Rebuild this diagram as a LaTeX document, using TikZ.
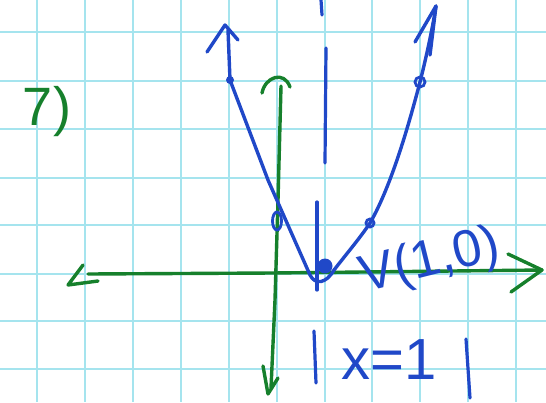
\documentclass[tikz,border=0pt]{standalone}
\usepackage{fontspec}
\setmainfont{Liberation Sans}
\usetikzlibrary{arrows.meta}
\usepackage{xcolor}
\definecolor{gridcyan}{RGB}{165,228,238}
\definecolor{penGreen}{RGB}{22,128,44}
\definecolor{penBlue}{RGB}{32,72,200}

\begin{document}
\begin{tikzpicture}[
  x=1pt,y=-1pt,
  gridline/.style={draw=gridcyan,line width=1.8pt},
  axis/.style={draw=penGreen,line width=3.4pt,line cap=round,line join=round},
  graph/.style={draw=penBlue,line width=3.4pt,line cap=round,line join=round},
  sym/.style={draw=penBlue,line width=3.2pt,line cap=round},
  opendot/.style={draw=penBlue,line width=2.8pt},
  handtext/.style={inner sep=0pt,font=\fontsize{#1}{#1}\selectfont},
  handtext/.default=50
]
  \useasboundingbox (0,0) rectangle (546,402);
  \fill[white] (0,0) rectangle (546,402);
  % grid paper
  \foreach \gx in {37,85,133,181,229,277,325,372,420,468,516}
    \draw[gridline] (\gx,0) -- (\gx,402);
  \foreach \gy in {32,81,129,178,225,274,321,369}
    \draw[gridline] (0,\gy) -- (546,\gy);

  % axes
  \coordinate (xl) at (88,274);
  \coordinate (xr) at (542,270);
  \coordinate (yt) at (281,86);
  \coordinate (yb) at (271,388);
  \draw[axis] (xl) -- (273,273) -- (xr);
  \draw[axis] (83,265) -- (68,285) -- (98,281);
  \draw[axis] (508,254) -- (xr) -- (511,292);
  \draw[axis] (yt) -- (278,200) -- (275,300) -- (yb);
  \draw[axis] (262,93) .. controls (265,77) and (284,70) .. (290,87);
  \draw[axis] (263,366) -- (268,394) -- (278,378);

  % axis of symmetry
  \draw[sym] (321,0) -- (322,15);
  \draw[sym] (326,48) -- (325,163);
  \draw[sym] (317,202) -- (317,290);
  \draw[sym] (314,331) -- (316,383);
  \draw[sym] (466,339) -- (470,398);

  % the graph
  \coordinate (lt) at (228,30);
  \coordinate (lp) at (230,80);
  \coordinate (vx) at (325,266);
  \coordinate (rp1) at (370,223);
  \coordinate (rp2) at (420,82);
  \coordinate (rt) at (436,6);
  \draw[graph] (lt) -- (lp) -- (268,180) -- (310,275)
    .. controls (315,285) and (326,284) .. (334,270)
    .. controls (348,252) and (360,238) .. (rp1)
    .. controls (392,185) and (410,120) .. (rp2)
    .. controls (428,50) and (433,25) .. (rt);
  \draw[graph] (207,52) -- (225,25) -- (238,40);
  \draw[graph] (415,42) -- (rt) -- (430,55);
  \fill[penBlue] (lp) circle[radius=4];
  \fill[penBlue] (vx) circle[radius=7.5];
  \draw[opendot] (277,221) ellipse[x radius=4.5,y radius=9];
  \draw[opendot] (rp1) circle[radius=4];
  \draw[opendot] (rp2) circle[radius=5];

  % labels
  \node[handtext=54,text=penGreen] (num) at (47,112) {7)};
  \node[handtext=52,text=penBlue,rotate=14] (vlab) at (430,262) {V(1,0)};
  \node[handtext=58,text=penBlue] (xlab) at (389,360) {x=1};
\end{tikzpicture}
\end{document}
